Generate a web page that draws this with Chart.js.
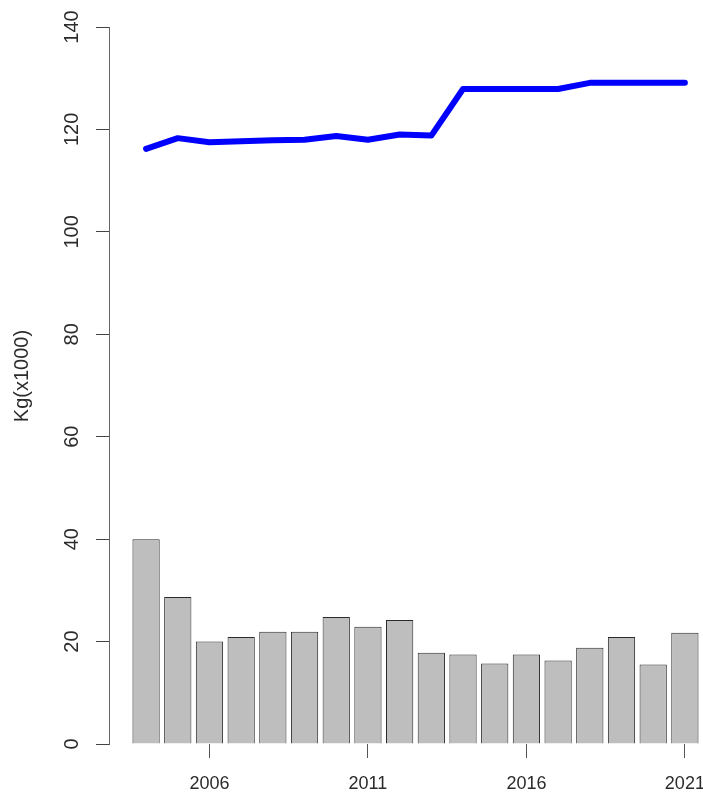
<!DOCTYPE html>
<html>
<head>
<meta charset="utf-8">
<script src="https://cdn.jsdelivr.net/npm/chart.js@4"></script>
<style>
body { margin: 0; background: #fff; }
#wrap { width: 703px; height: 795px; position: relative; }
</style>
</head>
<body>
<div id="wrap"><canvas id="kgChart"></canvas></div>
<script>
// data
let years = [2004, 2005, 2006, 2007, 2008, 2009, 2010, 2011, 2012, 2013, 2014, 2015, 2016, 2017, 2018, 2019, 2020, 2021];
let barVals = [40, 28.7, 20, 20.9, 21.9, 21.9, 24.8, 22.9, 24.2, 17.8, 17.5, 15.7, 17.5, 16.3, 18.8, 20.9, 15.5, 21.7];
let lineVals = [116.2, 118.3, 117.5, 117.7, 117.9, 118, 118.7, 118, 119, 118.8, 127.9, 127.9, 127.9, 127.9, 129.1, 129.1, 129.1, 129.1];
let xTicks = [2006, 2011, 2016, 2021];
let yTicks = [0, 20, 40, 60, 80, 100, 120, 140];
var yTitle = "Kg(x1000)";

var fontFam = "'Liberation Sans', Arial, sans-serif";

// R style labels: rotated y labels (chart.js can't rotate on a vertical axis)
// and x labels drawn by hand so the tick padding doesn't squeeze the plot
var rLabels = {
    id: "rLabels",
    afterDraw: function(chart) {
        let ctx = chart.ctx;
        let sy = chart.scales.y;
        let sx = chart.scales.x;
        ctx.save();
        ctx.fillStyle = "#2b2b2b";
        ctx.textAlign = "center";
        ctx.textBaseline = "middle";
        ctx.font = "20px " + fontFam;
        yTicks.forEach(function(v) {
            ctx.save();
            ctx.translate(72, sy.getPixelForValue(v));
            ctx.rotate(-Math.PI / 2);
            ctx.fillText(String(v), 0, 0);
            ctx.restore();
        });
        ctx.save();
        ctx.translate(22, 376);
        ctx.rotate(-Math.PI / 2);
        ctx.fillText(yTitle, 0, 0);
        ctx.restore();
        ctx.font = "18px " + fontFam;
        xTicks.forEach(function(v) {
            ctx.fillText(String(v), sx.getPixelForValue(v), 784);
        });
        ctx.restore();
    }
};

new Chart("kgChart", {
    type: "bar",
    data: {
        datasets: [{
            type: "line",
            data: years.map(function(y, i) { return { x: y, y: lineVals[i] }; }),
            borderColor: "#0000FF",
            borderWidth: 6,
            borderCapStyle: "round",
            borderJoinStyle: "round",
            pointRadius: 0,
            tension: 0,
            order: 0
        }, {
            type: "bar",
            data: years.map(function(y, i) { return { x: y, y: barVals[i] }; }),
            backgroundColor: "#BEBEBE",
            borderColor: "#2a2a2a",
            borderWidth: 1,
            categoryPercentage: 0.86,
            barPercentage: 1,
            order: 1
        }]
    },
    options: {
        responsive: true,
        maintainAspectRatio: false,
        animation: false,
        layout: { padding: { top: 27, right: 1, left: 0, bottom: 0 } },
        plugins: {
            legend: { display: false },
            tooltip: { enabled: false }
        },
        scales: {
            x: {
                type: "linear",
                offset: false,
                min: 2002.83,
                max: 2021.54,
                afterBuildTicks: function(scale) {
                    scale.ticks = xTicks.map(function(v) { return { value: v }; });
                },
                afterFit: function(scale) { scale.height = 51; },
                border: { display: false },
                grid: {
                    offset: false,
                    drawOnChartArea: false,
                    drawTicks: true,
                    tickLength: 14,
                    color: "#555"
                },
                ticks: { display: false }
            },
            y: {
                min: 0,
                max: 140,
                afterBuildTicks: function(scale) {
                    scale.ticks = yTicks.map(function(v) { return { value: v }; });
                },
                afterFit: function(scale) { scale.width = 109; },
                border: { display: true, color: "#666", width: 1 },
                grid: {
                    drawOnChartArea: false,
                    drawTicks: true,
                    tickLength: 13,
                    color: "#444"
                },
                ticks: { display: false }
            }
        }
    },
    plugins: [rLabels]
});
</script>
</body>
</html>
